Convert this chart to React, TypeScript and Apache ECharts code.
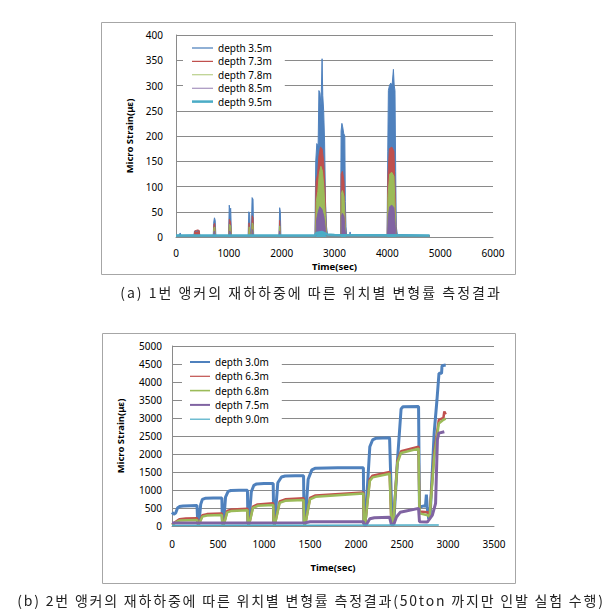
import React, { useEffect, useRef } from "react";
import * as echarts from "echarts";

// ---------- Chart (a): anchor 1 ----------
const topNames = ["depth 3.5m", "depth 7.3m", "depth 7.8m", "depth 8.5m", "depth 9.5m"];
const topXTicks = [0, 1000, 2000, 3000, 4000, 5000, 6000];

const d35: [number, number][] = [
  [0, 3], [60, 4], [80, 8], [95, 3], [340, 4], [350, 12], [390, 11], [420, 13], [440, 12], [450, 3],
  [705, 3], [715, 30], [728, 38], [742, 33], [755, 3], [995, 3], [1008, 63], [1022, 50], [1035, 57], [1050, 3],
  [1365, 3], [1378, 50], [1395, 45], [1410, 3], [1425, 4], [1440, 78], [1458, 75], [1470, 3],
  [1950, 3], [1962, 58], [1975, 50], [1985, 3],
  [2630, 3], [2645, 150], [2665, 185], [2690, 180], [2705, 290], [2725, 285], [2745, 260], [2765, 353],
  [2778, 280], [2795, 250], [2812, 190], [2830, 70], [2850, 20], [2870, 3],
  [3115, 3], [3125, 210], [3140, 225], [3155, 218], [3175, 205], [3195, 200], [3205, 70], [3218, 20], [3230, 3],
  [3285, 3], [3295, 10], [3305, 3],
  [3995, 3], [4008, 170], [4020, 290], [4040, 300], [4065, 305], [4090, 300], [4115, 332], [4130, 300],
  [4145, 290], [4158, 130], [4170, 20], [4190, 5], [4800, 3],
];
const d73: [number, number][] = [
  [0, 3], [345, 3], [355, 12], [405, 14], [440, 13], [450, 3], [708, 3], [718, 25], [732, 27], [750, 3],
  [998, 3], [1010, 35], [1032, 30], [1048, 3], [1372, 3], [1382, 28], [1405, 3], [1430, 3], [1442, 42],
  [1458, 38], [1468, 3], [1952, 3], [1962, 33], [1978, 3],
  [2635, 3], [2650, 110], [2680, 125], [2705, 160], [2735, 178], [2765, 175], [2795, 150], [2820, 100],
  [2840, 20], [2860, 3], [3118, 3], [3128, 125], [3150, 130], [3180, 110], [3200, 40], [3215, 3],
  [3998, 3], [4010, 120], [4040, 175], [4085, 178], [4125, 170], [4150, 80], [4165, 3], [4800, 3],
];
const d78: [number, number][] = [
  [0, 2], [708, 2], [718, 18], [732, 20], [748, 2], [1000, 2], [1012, 25], [1032, 22], [1046, 2],
  [1375, 2], [1385, 20], [1402, 2], [1432, 2], [1443, 28], [1458, 25], [1468, 2], [1953, 2], [1963, 22], [1975, 2],
  [2640, 2], [2655, 70], [2685, 90], [2712, 125], [2742, 140], [2772, 130], [2800, 95], [2828, 40], [2848, 2],
  [3118, 2], [3128, 85], [3150, 92], [3180, 80], [3200, 30], [3214, 2],
  [4000, 2], [4012, 80], [4045, 125], [4085, 128], [4125, 120], [4148, 55], [4162, 2], [4800, 2],
];
const d85: [number, number][] = [
  [0, 2], [710, 2], [718, 10], [730, 12], [745, 2], [1002, 2], [1012, 12], [1030, 10], [1045, 2],
  [1435, 2], [1443, 15], [1456, 12], [1466, 2], [1955, 2], [1963, 12], [1973, 2],
  [2645, 2], [2662, 35], [2692, 50], [2722, 60], [2762, 55], [2800, 40], [2828, 15], [2848, 2],
  [3120, 2], [3128, 40], [3150, 47], [3180, 40], [3200, 15], [3213, 2],
  [4002, 2], [4015, 40], [4045, 60], [4085, 63], [4125, 58], [4148, 25], [4162, 2], [4800, 2],
];
const d95: [number, number][] = [
  [0, 3], [2620, 3], [2660, 8], [2760, 10], [2860, 5], [3000, 4], [4800, 3],
];

// ---------- Chart (b): anchor 2 ----------
const botNames = ["depth 3.0m", "depth 6.3m", "depth 6.8m", "depth 7.5m", "depth 9.0m"];
const botXTicks = [0, 500, 1000, 1500, 2000, 2500, 3000, 3500];

const d30: [number, number][] = [
  [0, 380], [20, 330], [40, 360], [60, 500], [80, 540], [120, 555], [200, 565], [272, 570], [280, 60], [292, 60],
  [312, 600], [330, 740], [360, 770], [450, 775], [542, 780], [548, 60], [560, 60], [582, 800], [610, 960],
  [640, 985], [730, 990], [820, 990], [826, 60], [836, 60], [862, 950], [890, 1130], [920, 1170], [1000, 1180],
  [1100, 1180], [1106, 60], [1116, 60], [1150, 1200], [1190, 1360], [1230, 1390], [1340, 1395], [1430, 1395],
  [1436, 60], [1446, 60], [1480, 1300], [1520, 1560], [1560, 1605], [1800, 1615], [2080, 1615], [2086, 60],
  [2100, 60], [2150, 2200], [2180, 2390], [2220, 2440], [2365, 2450], [2392, 70], [2410, 80], [2450, 1800],
  [2490, 3250], [2510, 3310], [2680, 3320], [2690, 530], [2740, 560], [2755, 550], [2765, 870], [2775, 500],
  [2790, 200], [2805, 250], [2850, 2600], [2880, 3500], [2902, 4240], [2930, 4240], [2935, 4450], [2975, 4470],
];
const d63: [number, number][] = [
  [0, 50], [40, 120], [80, 190], [150, 205], [272, 215], [280, 60], [295, 60], [330, 300], [380, 330],
  [542, 345], [548, 60], [565, 60], [600, 420], [650, 460], [820, 480], [826, 60], [840, 60], [880, 540],
  [930, 600], [1100, 630], [1106, 60], [1120, 60], [1170, 680], [1230, 740], [1430, 770], [1436, 60],
  [1450, 60], [1500, 780], [1560, 850], [2080, 930], [2086, 60], [2100, 60], [2150, 1300], [2180, 1400],
  [2365, 1500], [2385, 60], [2405, 60], [2450, 1800], [2490, 2080], [2680, 2200], [2690, 400], [2780, 380],
  [2800, 300], [2850, 2000], [2900, 2950], [2950, 3000], [2960, 3180], [2975, 3100],
];
const d68: [number, number][] = [
  [0, 30], [40, 100], [80, 150], [272, 170], [280, 60], [295, 60], [330, 260], [380, 290], [542, 305],
  [548, 60], [565, 60], [600, 380], [650, 420], [820, 440], [826, 60], [840, 60], [880, 500], [930, 560],
  [1100, 585], [1106, 60], [1120, 60], [1170, 640], [1230, 700], [1430, 720], [1436, 60], [1450, 60],
  [1500, 740], [1560, 810], [2080, 900], [2086, 60], [2100, 60], [2150, 1250], [2180, 1350], [2365, 1450],
  [2385, 60], [2405, 60], [2450, 1750], [2490, 2030], [2680, 2150], [2690, 350], [2780, 300], [2800, 250],
  [2850, 1900], [2900, 2850], [2950, 2950], [2975, 2980],
];
const d75: [number, number][] = [
  [0, 80], [1450, 90], [1500, 120], [2080, 120], [2090, 30], [2110, 30], [2150, 200], [2200, 230],
  [2365, 240], [2385, 40], [2410, 40], [2440, 250], [2480, 380], [2680, 490], [2690, 120], [2775, 110],
  [2830, 300], [2865, 630], [2885, 2400], [2900, 2580], [2960, 2620],
];
const d90: [number, number][] = [[0, 15], [1500, 20], [2900, 25]];

const captionA = "(a) 1번 앵커의 재하하중에 따른 위치별 변형률 측정결과";
const captionB = "(b) 2번 앵커의 재하하중에 따른 위치별 변형률 측정결과(50ton 까지만 인발 실험 수행)";

const colors = ["#4F81BD", "#C0504D", "#9BBB59", "#8064A2", "#4BACC6"];

const bar = (h: number) => `path://M0,0H50V${h * 2}H0Z`;

export default function App() {
  const ref = useRef<HTMLDivElement>(null);
  useEffect(() => {
    if (!ref.current) return;
    const chart = echarts.init(ref.current, undefined, { renderer: "svg" });
    const font = "Noto Sans";
    const grid = "#8a8a8a";
    const labelStyle = { fontSize: 10, color: "#000", fontFamily: font, formatter: (v: number) => String(v) };
    const nameStyle = { fontSize: 9.5, fontWeight: "bold" as const, color: "#000", fontFamily: font };

    const topData = [d35, d73, d78, d85, d95];
    const botData = [d30, d63, d68, d75, d90];
    const topWidths = [1, 1, 1, 1, 2.5];
    const botWidths = [3, 2.5, 2.5, 3, 1.5];
    const topIcon = [1.5, 1.5, 1, 1, 3];
    const botIcon = [2.5, 1.5, 2, 2.5, 1.5];

    const series: any[] = [];
    topData.forEach((d, i) => {
      series.push({
        type: "line",
        name: topNames[i],
        xAxisIndex: 0,
        yAxisIndex: 0,
        data: d,
        symbol: "none",
        lineStyle: { color: colors[i], width: topWidths[i] },
        itemStyle: { color: colors[i] },
        areaStyle: { color: colors[i], opacity: 1 },
      });
    });
    botData.forEach((d, i) => {
      series.push({
        type: "line",
        name: botNames[i],
        xAxisIndex: 1,
        yAxisIndex: 1,
        data: d,
        symbol: "none",
        lineStyle: { color: colors[i], width: botWidths[i] },
        itemStyle: { color: colors[i] },
      });
    });

    const legendBase = {
      orient: "vertical" as const,
      itemHeight: 10,
      symbolKeepAspect: true,
      backgroundColor: "#fff",
      textStyle: { fontSize: 10, color: "#000", fontFamily: font, lineHeight: 10 },
      selectedMode: false,
    };

    chart.setOption({
      animation: false,
      backgroundColor: "#fff",
      grid: [
        { left: 176, top: 35, width: 317, height: 202 },
        { left: 172, top: 346, width: 322, height: 180 },
      ],
      legend: [
        {
          ...legendBase, left: 183, top: 40, itemWidth: 21, itemGap: 3.4, padding: [3, 13, 3, 9],
          data: topNames.map((n, i) => ({ name: n, icon: bar(topIcon[i]) })),
        },
        {
          ...legendBase, left: 182, top: 352, itemWidth: 20, itemGap: 4.3, padding: [5, 13, 5, 8],
          data: botNames.map((n, i) => ({ name: n, icon: bar(botIcon[i]) })),
        },
      ],
      xAxis: [
        {
          type: "value", gridIndex: 0, min: topXTicks[0], max: topXTicks[topXTicks.length - 1], interval: 1000,
          name: "Time(sec)", nameLocation: "middle", nameGap: 24, nameTextStyle: nameStyle,
          axisLine: { lineStyle: { color: grid } }, axisTick: { show: false }, splitLine: { show: false },
          axisLabel: { ...labelStyle, margin: 11 },
        },
        {
          type: "value", gridIndex: 1, min: botXTicks[0], max: botXTicks[botXTicks.length - 1], interval: 500,
          name: "Time(sec)", nameLocation: "middle", nameGap: 36, nameTextStyle: nameStyle,
          axisLine: { lineStyle: { color: grid } }, axisTick: { show: false }, splitLine: { show: false },
          axisLabel: { ...labelStyle, margin: 13 },
        },
      ],
      yAxis: [
        {
          type: "value", gridIndex: 0, min: 0, max: 400, interval: 50,
          name: "Micro Strain(\u03bc\u03b5)", nameLocation: "middle", nameGap: 42, nameTextStyle: nameStyle,
          axisLine: { show: true, lineStyle: { color: grid } }, axisTick: { show: false },
          splitLine: { lineStyle: { color: grid } }, axisLabel: { ...labelStyle, margin: 13 },
        },
        {
          type: "value", gridIndex: 1, min: 0, max: 5000, interval: 500,
          name: "Micro Strain(\u03bc\u03b5)", nameLocation: "middle", nameGap: 47, nameTextStyle: nameStyle,
          axisLine: { show: true, lineStyle: { color: grid } }, axisTick: { show: false },
          splitLine: { lineStyle: { color: grid } }, axisLabel: { ...labelStyle, margin: 10 },
        },
      ],
      series,
      graphic: [
        { type: "rect", shape: { x: 101.5, y: 22.5, width: 414, height: 252 }, style: { fill: "none", stroke: "#a6a6a6", lineWidth: 1 }, silent: true },
        { type: "rect", shape: { x: 102.5, y: 333.5, width: 413, height: 250 }, style: { fill: "none", stroke: "#a6a6a6", lineWidth: 1 }, silent: true },
      ],
    });
    return () => chart.dispose();
  }, []);

  const capStyle: React.CSSProperties = {
    position: "absolute",
    left: 0,
    width: 614,
    textAlign: "center",
    fontFamily: '"Noto Sans CJK KR", sans-serif',
    fontSize: 14,
    color: "#222",
    whiteSpace: "nowrap",
    lineHeight: "16px",
  };
  return (
    <div style={{ position: "fixed", left: 0, top: 0, width: 614, height: 613, background: "#fff" }}>
      <div ref={ref} style={{ position: "absolute", left: 0, top: 0, width: 614, height: 613 }} />
      <div style={{ ...capStyle, top: 284, letterSpacing: "2px", paddingLeft: 4 }}>{captionA}</div>
      <div style={{ ...capStyle, top: 592, letterSpacing: "1.8px", paddingLeft: 4 }}>{captionB}</div>
    </div>
  );
}
